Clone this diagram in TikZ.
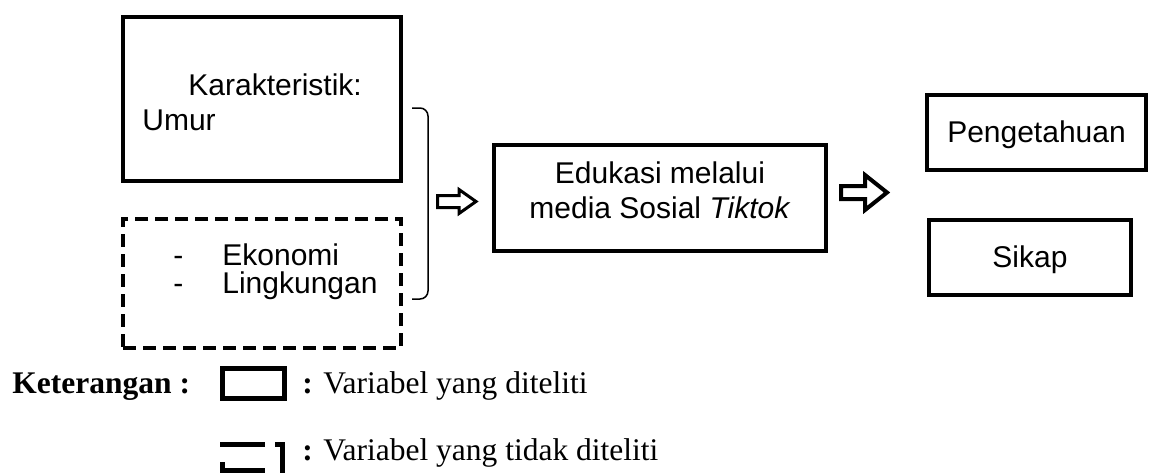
\documentclass[tikz,border=0pt]{standalone}
\usepackage{fontspec}
\setmainfont{Liberation Serif}
\setsansfont{Liberation Sans}
\begin{document}
\begin{tikzpicture}[x=0.5pt,y=-0.5pt,
	kotak/.style={draw,line width=2pt,inner sep=0pt,font=\sffamily\fontsize{15}{17.5}\selectfont,text height=10pt,text depth=0pt},
	kotakputus/.style={kotak,dash pattern=on 6.5pt off 3.5pt},
	teks/.style={inner sep=0pt,anchor=base west,font=\sffamily\fontsize{15}{17.5}\selectfont},
	ket/.style={inner sep=0pt,anchor=base west,font=\fontsize{15.75}{18}\selectfont},
	panah/.style={draw,fill=white,line width=1.5pt,line join=miter}]
	\useasboundingbox (0,0) rectangle (1152,472);
	% kotak variabel
	\node[kotak,minimum width=139pt,minimum height=82pt] (kar) at (262,99) {};
	\node[teks] (karjudul) at (188,95) {Karakteristik:};
	\node[teks] (umur) at (142,130) {Umur};
	\node[kotakputus,minimum width=139pt,minimum height=64.5pt] (luar) at (262,283.5) {};
	\node[teks] (strip1) at (173,265) {-};
	\node[teks] (eko) at (222,265) {Ekonomi};
	\node[teks] (strip2) at (173,293) {-};
	\node[teks] (ling) at (222,293) {Lingkungan};
	\draw[line width=0.75pt,rounded corners=4] (412,108)--(428,108)--(428,299)--(412,299);
	\node[kotak,minimum width=166pt,minimum height=53pt] (edu) at (660,198) {};
	\node[teks,anchor=base] (edu1) at (660,183) {Edukasi melalui};
	\node[teks,anchor=base] (edu2) at (660,218) {media Sosial \textit{Tiktok}};
	\node[kotak,minimum width=109.5pt,minimum height=37.5pt] (tahu) at (1036.5,132.5) {Pengetahuan};
	\node[kotak,minimum width=101pt,minimum height=37.5pt] (sikap) at (1030,257.5) {Sikap};
	% panah
	\coordinate (pa) at (437.5,201.5);
	\draw[panah] (pa) ++(0,-6)--++(21.5,0)--++(0,-6)--++(17,12)--++(-17,12)--++(0,-6)--++(-21.5,0)--cycle;
	\coordinate (pb) at (841,192.5);
	\draw[panah,line width=2pt] (pb) ++(0,-6.5)--++(24,0)--++(0,-11)--++(22,17.5)--++(-22,17.5)--++(0,-11)--++(-24,0)--cycle;
	% keterangan
	\node[ket] (keterangan) at (12,393) {\textbf{Keterangan :}};
	\node[draw,line width=2.5pt,inner sep=0pt,minimum width=31pt,minimum height=15pt] (ketkotak) at (253.5,383.5) {};
	\node[ket] (ket1) at (302,393) {\textbf{:} Variabel yang diteliti};
	\draw[line width=2.5pt] (220,444)--(265,444);
	\draw[line width=2.5pt] (222.5,462)--(222.5,470.5)--(265,470.5);
	\draw[line width=2.5pt] (275,444)--(282.5,444)--(282.5,480);
	\node[ket] (ket2) at (302,460) {\textbf{:} Variabel yang tidak diteliti};
\end{tikzpicture}
\end{document}
